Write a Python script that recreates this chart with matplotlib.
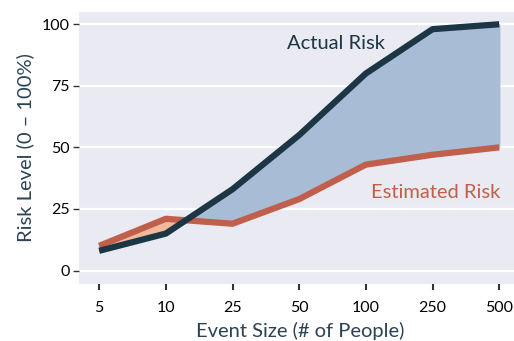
import numpy as np
import matplotlib
matplotlib.use("Agg")
import matplotlib.pyplot as plt

sizes = ["5", "10", "25", "50", "100", "250", "500"]
actual = [8, 15, 33, 55, 80, 98, 100]
estimated = [10, 21, 19, 29, 43, 47, 50]
yticks = [0, 25, 50, 75, 100]

navy = "#1c3646"
red = "#c0604c"
label_col = "#2b4354"

plt.rcParams['font.family'] = ['Lato', 'DejaVu Sans']

fig = plt.figure(figsize=(5.14, 3.41), dpi=100)
ax = fig.add_axes([0.154, 0.167, 0.86, 0.798])
ax.set_facecolor("#eaeaf2")
for s in ax.spines.values():
    s.set_visible(False)

x = np.arange(len(sizes))
a = np.array(actual, dtype=float)
e = np.array(estimated, dtype=float)

ax.fill_between(x, a, e, where=a >= e, interpolate=True, color="#a9bcd5", zorder=2)
ax.fill_between(x, a, e, where=a < e, interpolate=True, color="#f2b89b", zorder=2)
ax.plot(x, e, color=red, lw=4.5, solid_capstyle="butt", zorder=3)
ax.plot(x, a, color=navy, lw=4.5, solid_capstyle="butt", zorder=4)

ax.set_yticks(yticks)
ax.yaxis.grid(True, color="white", lw=1.6, zorder=1)
ax.set_axisbelow(True)
ax.set_xticks(x)
ax.set_xticklabels(sizes)
ax.set_xlim(-0.3, 6.33)
ax.set_ylim(-5.5, 105)
ax.tick_params(axis="x", length=4, width=1.5, color="#333333", labelsize=11.5, pad=8)
ax.tick_params(axis="y", length=4, width=1, color="#333333", labelsize=11.5, pad=3)

ax.set_xlabel("Event Size (# of People)", color=label_col, fontsize=14.5, labelpad=5)
ax.set_ylabel("Risk Level (0 – 100%)", color=label_col, fontsize=14.5, labelpad=5)

ax.text(3.55, 92, "Actual Risk", color=navy, fontsize=14.5, ha="center", va="center")
ax.text(5.05, 31.5, "Estimated Risk", color=red, fontsize=14.5, ha="center", va="center")

fig.savefig("out.png", dpi=100)
